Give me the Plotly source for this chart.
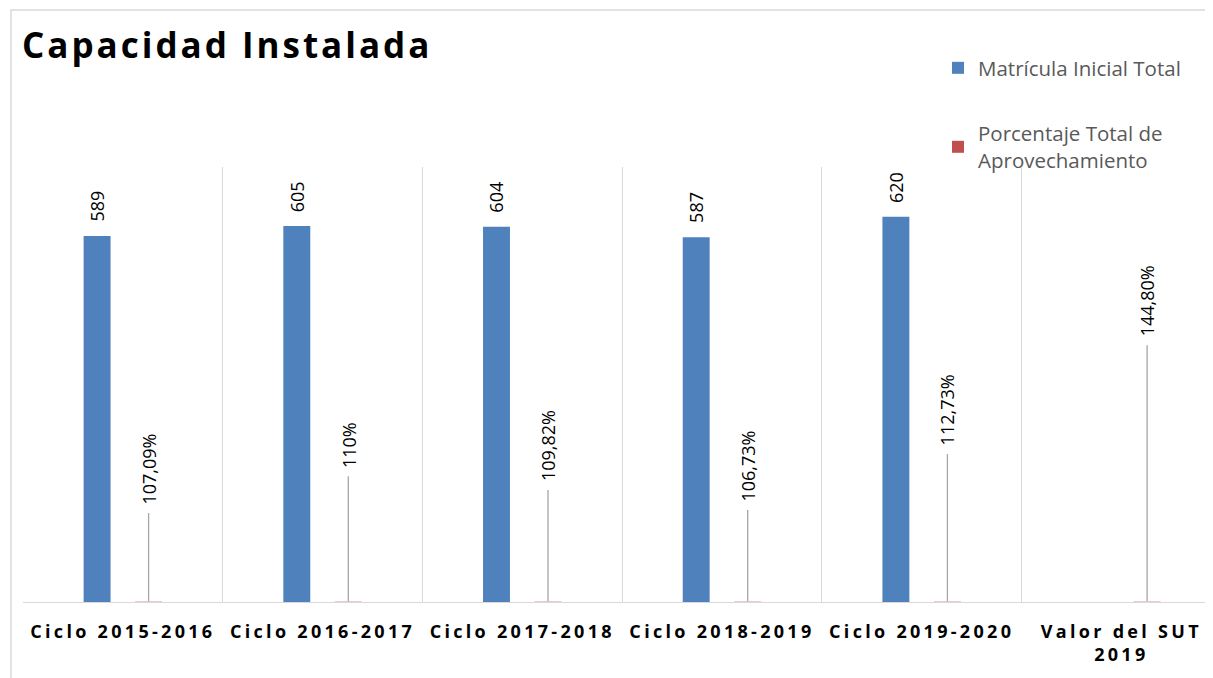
import plotly.graph_objects as go

categories = ["Ciclo 2015-2016", "Ciclo 2016-2017", "Ciclo 2017-2018",
              "Ciclo 2018-2019", "Ciclo 2019-2020", "Valor del SUT<br>2019"]
matricula = [589, 605, 604, 587, 620, None]
porcentaje = [1.0709, 1.10, 1.0982, 1.0673, 1.1273, 1.448]
porcentaje_labels = ["107,09%", "110%", "109,82%", "106,73%", "112,73%", "144,80%"]

# label placement (layout, in data units of the y axis) for the manually placed % labels
pct_label_center = [214, 253, 251, 219, 309, 484]

BLUE = "#4f81bd"
RED = "#c0504d"
FONT = "Open Sans"
SP = '<span style="letter-spacing:3.3px">'

tick_text = [SP + c.replace("<br>", "</span><br>" + SP) + "</span>" for c in categories]

# page is offset by the 8px body margin
L, T, BOT = 15, 159, 594
PW, PH = 1213 - L, BOT - T

fig = go.Figure()
fig.add_trace(go.Bar(x=categories, y=matricula, name="Matrícula Inicial Total",
                     marker=dict(color=BLUE, line=dict(width=0)), legendgroup="a",
                     hoverinfo="skip"))
fig.add_trace(go.Bar(x=categories, y=porcentaje, name="Porcentaje Total de<br>Aprovechamiento",
                     marker=dict(color=RED, line=dict(width=0), opacity=[0.3] * len(porcentaje)),
                     legendgroup="b", hoverinfo="skip"))

annotations = []
for i, v in enumerate(matricula):
    if v is None:
        continue
    annotations.append(dict(x=i - 0.129, y=v, xref="x", yref="y", text=str(v),
                            showarrow=False, textangle=-90, yanchor="bottom",
                            yshift=12, font=dict(family=FONT, size=18, color="#000000")))
for i, (v, lab) in enumerate(zip(porcentaje, porcentaje_labels)):
    annotations.append(dict(x=i + 0.129, y=v, xref="x", yref="y", text=lab,
                            showarrow=True, arrowhead=0, arrowwidth=1.3,
                            arrowcolor="#a6a6a6", ax=i + 0.129, ay=pct_label_center[i],
                            axref="x", ayref="y", textangle=-90, startstandoff=7,
                            font=dict(family=FONT, size=18, color="#000000")))

annotations.append(dict(x=(12 - L) / PW, y=(BOT - 36) / PH, xref="paper", yref="paper",
                        yanchor="middle", xanchor="left", showarrow=False,
                        text='<span style="letter-spacing:3px">Capacidad Instalada</span>',
                        font=dict(family=FONT, size=35, color="#000000", weight="bold")))

fig.update_layout(
    width=1213, height=678,
    margin=dict(l=L, r=0, t=T, b=678 - BOT, autoexpand=False),
    paper_bgcolor="white", plot_bgcolor="white",
    barmode="group", bargap=0.484, bargroupgap=0.477,
    annotations=annotations,
    showlegend=True,
    legend=dict(x=(930 - L) / PW, y=(BOT - 40) / PH, xanchor="left", yanchor="top",
                font=dict(family=FONT, size=20.5, color="#595959"),
                tracegroupgap=36, bgcolor="rgba(0,0,0,0)"),
    xaxis=dict(type="category", tickmode="array", tickvals=categories, ticktext=tick_text,
               range=[-0.5, -0.5 + PW / 199.7], tickson="boundaries",
               showgrid=True, gridcolor="#d9d9d9", gridwidth=1.3,
               showline=True, linecolor="#d9d9d9", linewidth=1.3, ticks="",
               ticklabelstandoff=13,
               tickfont=dict(family=FONT, size=18, color="#000000", weight="bold"),
               fixedrange=True),
    yaxis=dict(range=[0, 700], showgrid=False, showticklabels=False, zeroline=False,
               showline=False, fixedrange=True),
    shapes=[dict(type="rect", xref="paper", yref="paper",
                 x0=(3 - L) / PW, x1=1.01, y0=-0.3, y1=(BOT - 2) / PH,
                 line=dict(color="#d9d9d9", width=1.5), fillcolor="rgba(0,0,0,0)",
                 layer="below")],
)

fig.write_html("out.html")
